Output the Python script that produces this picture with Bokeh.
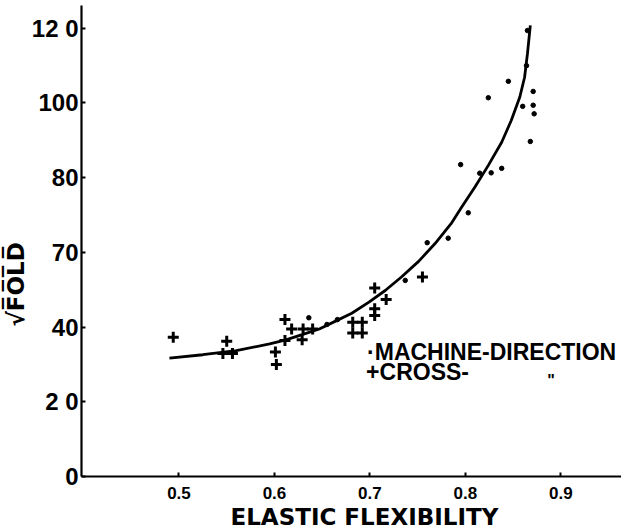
from bokeh.plotting import figure
from bokeh.models import Range1d, Label, FixedTicker, Title
from bokeh.embed import file_html
from bokeh.resources import INLINE

# Machine-direction samples (dots)
md_x = [0.636, 0.655, 0.666, 0.737, 0.760, 0.782, 0.803, 0.795, 0.815, 0.827,
        0.838, 0.824, 0.845, 0.860, 0.871, 0.871, 0.872, 0.868, 0.864, 0.865]
md_y = [42.5, 40.7, 42.0, 52.5, 62.6, 63.8, 70.6, 83.5, 81.2, 81.3,
        82.5, 101.4, 105.8, 99.1, 103.1, 99.4, 97.1, 89.7, 110.0, 119.4]

# Cross-direction samples (crosses)
cd_x = [0.494, 0.550, 0.546, 0.556, 0.601, 0.602, 0.611, 0.611, 0.618, 0.630,
        0.629, 0.640, 0.682, 0.692, 0.682, 0.692, 0.705, 0.705, 0.705, 0.717,
        0.755]
cd_y = [37.3, 36.2, 32.9, 32.9, 33.3, 30.0, 42.0, 36.4, 39.5, 39.5,
        36.6, 39.5, 41.3, 41.3, 38.4, 38.4, 50.5, 44.9, 43.1, 47.4,
        53.4]

# Fitted curve
curve_x = [0.490, 0.525, 0.560, 0.595, 0.612, 0.629, 0.647, 0.664, 0.681, 0.699,
           0.716, 0.733, 0.751, 0.768, 0.785, 0.796, 0.810, 0.824, 0.838, 0.848,
           0.857, 0.862, 0.865, 0.868]
curve_y = [31.7, 32.6, 33.7, 35.5, 36.6, 38.0, 39.5, 41.6, 43.7, 46.7,
           49.8, 53.4, 57.6, 62.3, 67.7, 72.1, 77.5, 83.3, 89.5, 95.3,
           101.6, 106.9, 113.2, 120.8]

x_ticks = [0.5, 0.6, 0.7, 0.8, 0.9]
x_tick_labels = ["0.5", "0.6", "0.7", "0.8", "0.9"]
y_ticks = [0, 20, 40, 60, 80, 100, 120]
y_tick_labels = ["0", "2 0", "40", "70", "80", "100", "12 0"]

FONT = "Liberation Sans"

p = figure(width=621, height=531, output_backend="svg", toolbar_location=None,
           x_range=Range1d(0.3979, 0.9635), y_range=Range1d(0, 126.1),
           min_border_left=78, min_border_right=0, min_border_top=5,
           min_border_bottom=55)
p.outline_line_color = None
p.grid.visible = False
p.background_fill_color = "white"
p.border_fill_color = "white"

for ax in (p.xaxis[0], p.yaxis[0]):
    ax.axis_line_width = 2.2
    ax.axis_line_color = "black"
    ax.major_tick_in = 4
    ax.major_tick_out = 0
    ax.major_tick_line_width = 2
    ax.minor_tick_line_color = None
    ax.major_label_text_font = FONT
    ax.major_label_text_font_style = "bold"
    ax.major_label_text_color = "black"

p.xaxis.ticker = FixedTicker(ticks=x_ticks)
p.xaxis.major_label_overrides = dict(zip(x_ticks, x_tick_labels))
p.xaxis.major_label_text_font_size = "17px"
p.xaxis.major_label_standoff = 10

p.yaxis.ticker = FixedTicker(ticks=y_ticks)
p.yaxis.major_label_overrides = dict(zip(y_ticks, y_tick_labels))
p.yaxis.major_label_text_font_size = "24px"
p.yaxis.major_label_standoff = 3

p.line(curve_x, curve_y, line_color="black", line_width=2.8)
p.scatter(md_x, md_y, marker="circle", size=4.5, color="black")
p.scatter(cd_x, cd_y, marker="cross", size=11, line_color="black", line_width=3)

p.add_layout(Label(x=0.697, y=33.2, text="\u00b7MACHINE-DIRECTION", text_font=FONT,
                   text_font_style="bold", text_font_size="23px",
                   text_baseline="middle", text_align="left", text_color="black"))
p.add_layout(Label(x=0.696, y=28.1, text="+CROSS-", text_font=FONT,
                   text_font_style="bold", text_font_size="23px",
                   text_baseline="middle", text_align="left", text_color="black"))
p.add_layout(Label(x=0.8896, y=25.6, text='"', text_font=FONT,
                   text_font_style="bold", text_font_size="16px",
                   text_baseline="alphabetic", text_align="center", text_color="black"))

# axis titles
p.add_layout(Title(text="ELASTIC FLEXIBILITY", align="left", offset=149,
                   standoff=0, text_font="DejaVu Sans", text_font_style="bold",
                   text_font_size="23px", text_color="black"), "below")
p.add_layout(Title(text="\u221aF\u0305O\u0305L\u0305D\u0305", align="left", offset=150,
                   standoff=0, text_font="DejaVu Sans", text_font_style="bold",
                   text_font_size="23px", text_color="black"), "left")

open("out.html", "w").write(file_html(p, INLINE))
